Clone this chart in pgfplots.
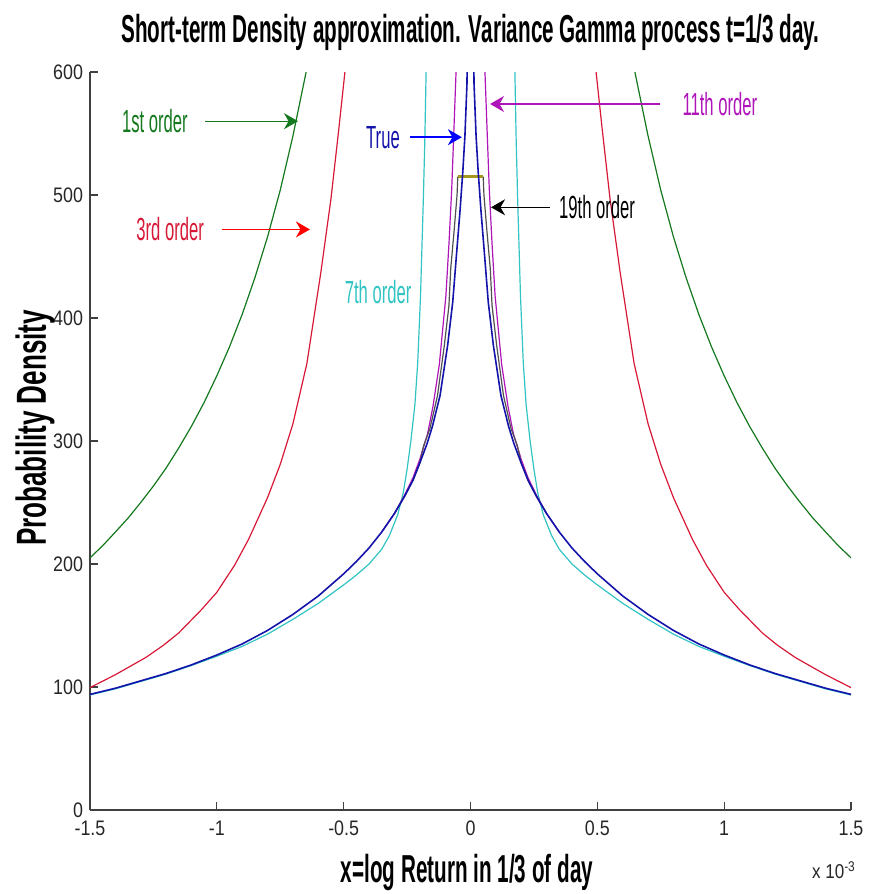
\documentclass[border=0pt]{standalone}
\usepackage{fontspec}
\setmainfont{Liberation Sans}
\newfontfamily\condfont[FakeStretch=0.52]{Liberation Sans}
\newfontfamily\titfont[FakeStretch=0.53]{Liberation Sans}
\newfontfamily\ylabfont[FakeStretch=0.62]{Liberation Sans}
\newfontfamily\tickfamily[FakeStretch=0.85]{Liberation Sans}
\usepackage{pgfplots}
\pgfplotsset{compat=1.18}
\usetikzlibrary{arrows.meta}
\definecolor{mgreen}{RGB}{20,120,30}
\definecolor{mred}{RGB}{215,25,55}
\definecolor{mcyan}{RGB}{50,195,195}
\definecolor{mmag}{RGB}{175,20,185}
\definecolor{mblue}{RGB}{20,20,170}
\definecolor{mdark}{RGB}{80,80,80}
\definecolor{molive}{RGB}{165,150,30}
\newcommand{\annfont}{\condfont\fontsize{16}{18}\selectfont}
\newcommand{\bigfont}{\titfont\bfseries\fontsize{19.5}{22}\selectfont}

\pgfplotstableread{
x y
-1.50 205
-1.45 214.9
-1.40 226
-1.35 237.3
-1.30 250
-1.25 263.4
-1.20 278
-1.15 294.4
-1.10 312
-1.05 331.4
-1.00 353
-0.95 376.6
-0.90 403
-0.85 432.7
-0.80 466
-0.75 504
-0.70 548
-0.648 600
-0.625 626
}\greenL
\pgfplotstableread{
x y
0.625 626
0.648 600
0.70 548
0.75 504
0.80 466
0.85 432.7
0.90 403
0.95 376.6
1.00 353
1.05 331.4
1.10 312
1.15 294.4
1.20 278
1.25 263.4
1.30 250
1.35 237.3
1.40 226
1.45 214.9
1.50 205
}\greenR
\pgfplotstableread{
x y
-1.50 99.5
-1.40 110
-1.28 124
-1.21 134
-1.15 144
-1.06 163
-1.00 177
-0.93 199
-0.875 220
-0.80 254
-0.75 281
-0.70 314
-0.645 363
-0.59 437
-0.55 497
-0.52 552
-0.494 602
-0.485 620
}\redL
\pgfplotstableread{
x y
0.485 620
0.494 602
0.52 552
0.55 497
0.59 437
0.645 363
0.70 314
0.75 281
0.80 254
0.875 220
0.93 199
1.00 177
1.06 163
1.15 144
1.21 134
1.28 124
1.40 110
1.50 99.5
}\redR
\pgfplotstableread{
x y
-1.50 93.5
-1.40 98.5
-1.30 104.5
-1.20 110.5
-1.10 117.5
-1.00 125
-0.90 133
-0.80 143
-0.70 155
-0.60 168
-0.50 183
-0.45 191
-0.40 200
-0.35 212
-0.32 223
-0.287 240
-0.265 258
-0.25 277
-0.235 300
-0.219 330
-0.208 364
-0.197 418
-0.186 496
-0.180 545
-0.175 600
-0.170 640
}\cyanL
\pgfplotstableread{
x y
0.170 640
0.175 600
0.180 545
0.186 496
0.197 418
0.208 364
0.219 330
0.235 300
0.25 277
0.265 258
0.287 240
0.32 223
0.35 212
0.40 200
0.45 191
0.50 183
0.60 168
0.70 155
0.80 143
0.90 133
1.00 125
1.10 117.5
1.20 110.5
1.30 104.5
1.40 98.5
1.50 93.5
}\cyanR
\pgfplotstableread{
x y
-0.35 226
-0.30 241
-0.26 256
-0.227 270
-0.20 285
-0.169 306
-0.148 328
-0.123 362
-0.110 390
-0.097 418
-0.085 460
-0.074 505
-0.065 555
-0.057 600
-0.055 640
}\magL
\pgfplotstableread{
x y
0.055 640
0.057 600
0.065 555
0.074 505
0.085 460
0.097 418
0.110 390
0.123 362
0.148 328
0.169 306
0.20 285
0.227 270
0.26 256
0.30 241
0.35 226
}\magR
\pgfplotstableread{
x y
-0.30 241
-0.26 255
-0.227 268
-0.20 282
-0.185 296
-0.160 310
-0.130 337
-0.103 378
-0.085 410
-0.078 440
-0.065 470
-0.053 500
-0.050 515
}\darkL
\pgfplotstableread{
x y
0.050 515
0.053 500
0.065 470
0.078 440
0.085 410
0.103 378
0.130 337
0.160 310
0.185 296
0.20 282
0.227 268
0.26 255
0.30 241
}\darkR
\pgfplotstableread{
x y
-1.50 94
-1.40 99
-1.30 105
-1.20 111
-1.10 118
-1.00 126
-0.90 135
-0.80 146
-0.70 159
-0.60 174
-0.50 192
-0.45 202
-0.40 213
-0.35 226
-0.30 241
-0.26 255
-0.227 268
-0.20 282
-0.171 298
-0.15 312
-0.12 337
-0.09 378
-0.07 413
-0.057 447
-0.041 488
-0.030 520
-0.022 548
-0.014 590
-0.013 605
-0.012 660
-0.006 800
0.000 900
0.006 800
0.012 660
0.013 605
0.014 590
0.022 548
0.030 520
0.041 488
0.057 447
0.07 413
0.09 378
0.12 337
0.15 312
0.171 298
0.20 282
0.227 268
0.26 255
0.30 241
0.35 226
0.40 213
0.45 202
0.50 192
0.60 174
0.70 159
0.80 146
0.90 135
1.00 126
1.10 118
1.20 111
1.30 105
1.40 99
1.50 94
}\trueD
\pgfplotstableread{
x y
-0.05 515
0.05 515
}\olive

\begin{document}
\begin{tikzpicture}
\begin{axis}[
  at={(0,0)}, anchor=south west,
  width=380.5pt, height=369pt, scale only axis,
  xmin=-1.5, xmax=1.5, ymin=0, ymax=600,
  axis lines=left,
  axis line style={-, draw=black!75, line width=0.8pt},
  tick align=inside, major tick length=4pt,
  tick style={black!75, line width=0.6pt},
  xtick={-1.5,-1,-0.5,0,0.5,1,1.5},
  xticklabels={-1.5,-1,-0.5,0,0.5,1,1.5},
  ytick={0,100,200,300,400,500,600},
  /pgf/number format/assume math mode=true,
  tick label style={font=\tickfamily\fontsize{10.5}{12}\selectfont, text=black!85},
  xticklabel style={yshift=-2pt},
  clip=true,
]
\addplot[mgreen, line width=0.6pt] table {\greenL};
\addplot[mgreen, line width=0.6pt] table {\greenR};
\addplot[mred, line width=0.6pt] table {\redL};
\addplot[mred, line width=0.6pt] table {\redR};
\addplot[mcyan, line width=0.6pt] table {\cyanL};
\addplot[mcyan, line width=0.6pt] table {\cyanR};
\addplot[mmag, line width=0.6pt] table {\magL};
\addplot[mmag, line width=0.6pt] table {\magR};
\addplot[mdark, line width=0.6pt] table {\darkL};
\addplot[mdark, line width=0.6pt] table {\darkR};
\addplot[molive, line width=1.6pt] table {\olive};
\addplot[mblue, line width=0.8pt] table {\trueD};

% annotations
\node[text=mgreen, font=\annfont] at (axis cs:-1.244,560) {1st order};
\draw[mgreen, line width=0.7pt, -{Stealth[length=7pt,width=8pt]}] (axis cs:-1.046,560) -- (axis cs:-0.680,560);
\node[text=mred, font=\annfont] at (axis cs:-1.184,472) {3rd order};
\draw[red, line width=0.7pt, -{Stealth[length=7pt,width=8pt]}] (axis cs:-0.980,472) -- (axis cs:-0.633,472);
\node[text=mcyan, font=\annfont] at (axis cs:-0.364,421) {7th order};
\node[text=mblue, font=\annfont] at (axis cs:-0.345,547) {True};
\draw[blue, line width=0.7pt, -{Stealth[length=7pt,width=8pt]}] (axis cs:-0.238,547) -- (axis cs:-0.034,547);
\node[text=mmag, font=\annfont] at (axis cs:0.983,574) {11th order};
\draw[mmag, line width=0.7pt, -{Stealth[length=7pt,width=8pt]}] (axis cs:0.747,574) -- (axis cs:0.077,574);
\node[text=black, font=\annfont] at (axis cs:0.499,490) {19th order};
\draw[black, line width=0.7pt, -{Stealth[length=7pt,width=8pt]}] (axis cs:0.313,490) -- (axis cs:0.081,490);
\end{axis}
\node[font=\bigfont] at (190.25pt,389pt) {Short-term Density approximation. Variance Gamma process t=1/3 day.};
\node[font=\ylabfont\bfseries\fontsize{21}{24}\selectfont, rotate=90] at (-27.5pt,191pt) {Probability Density};
\node[font=\bigfont] at (188.5pt,-31.5pt) {x=log Return in 1/3 of day};
\node[font=\tickfamily\fontsize{10}{12}\selectfont, text=black!85] at (372pt,-30pt) {x 10\textsuperscript{-3}};
\pgfresetboundingbox
\path[use as bounding box] (-45pt,-42pt) rectangle (389pt,405pt);
\end{tikzpicture}
\end{document}
